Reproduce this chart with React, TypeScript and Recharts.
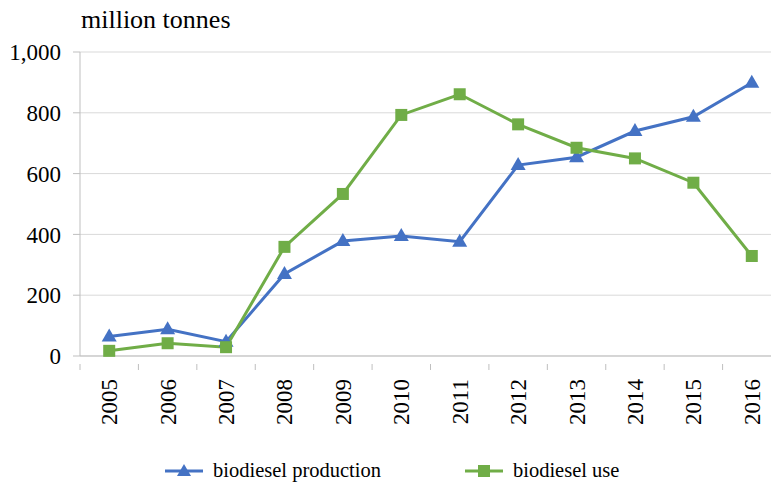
import { LineChart, Line, XAxis, YAxis, CartesianGrid, Legend } from 'recharts'

const YEARS = ['2005', '2006', '2007', '2008', '2009', '2010', '2011', '2012', '2013', '2014', '2015', '2016']
const PRODUCTION = [64, 88, 47, 270, 378, 395, 376, 628, 654, 740, 787, 899]
const USE = [17, 42, 29, 359, 533, 793, 861, 762, 685, 650, 570, 329]
const Y_TICKS = [0, 200, 400, 600, 800, 1000]

const BLUE = '#4472C4'
const GREEN = '#70AD47'
const AXIS = '#bfbfbf'
const FONT = 'Times New Roman, Liberation Serif, DejaVu Serif, serif'

const data = YEARS.map((year, i) => ({ year, production: PRODUCTION[i], use: USE[i] }))

const Triangle = ({ cx, cy }: any) => {
  if (cx == null || cy == null) return null
  return <path d={`M${cx},${cy - 8} L${cx + 7.5},${cy + 5} L${cx - 7.5},${cy + 5} Z`} fill={BLUE} />
}

const Square = ({ cx, cy }: any) => {
  if (cx == null || cy == null) return null
  return <rect x={cx - 6} y={cy - 6} width={12} height={12} fill={GREEN} />
}

const YearTick = (props: any) => {
  const { x, y, payload, width, visibleTicksCount } = props
  const band = width && visibleTicksCount ? width / visibleTicksCount : 58.4
  const left = x - band / 2
  return (
    <g>
      <line x1={left} y1={y} x2={left} y2={y + 6} stroke={AXIS} />
      <text
        x={0}
        y={0}
        transform={`translate(${x + 8},${y + 15}) rotate(-90)`}
        textAnchor="end"
        fontSize={23}
        style={{ fontFamily: FONT }}
        fill="#000"
      >
        {payload.value}
      </text>
    </g>
  )
}

const LegendContent = () => {
  const items = [
    { label: 'biodiesel production', color: BLUE, marker: 'tri' },
    { label: 'biodiesel use', color: GREEN, marker: 'sq' },
  ]
  return (
    <div style={{ display: 'flex', fontFamily: FONT, fontSize: 20.5, color: '#000', paddingLeft: 165 }}>
      {items.map((it, i) => (
        <div key={it.label} style={{ display: 'flex', alignItems: 'center', marginRight: i === 0 ? 84 : 0 }}>
          <svg width={40} height={20} style={{ marginRight: 8 }}>
            <line x1={0} y1={10} x2={38} y2={10} stroke={it.color} strokeWidth={3} />
            {it.marker === 'tri' ? (
              <path d="M19,3 L26,15 L12,15 Z" fill={it.color} />
            ) : (
              <rect x={13} y={4} width={12} height={12} fill={it.color} />
            )}
          </svg>
          <span>{it.label}</span>
        </div>
      ))}
    </div>
  )
}

export default function App() {
  return (
    <div style={{ position: 'absolute', left: 0, top: 0, width: 771, height: 484, overflow: 'hidden', background: '#fff' }}>
      <div style={{ position: 'absolute', left: 81, top: 5, fontFamily: FONT, fontSize: 26, color: '#000' }}>
        million tonnes
      </div>
      <LineChart width={800} height={484} data={data} margin={{ top: 52, right: 19, bottom: 2, left: 0 }}>
        <CartesianGrid vertical={false} stroke="#d9d9d9" />
        <XAxis
          dataKey="year"
          scale="band"
          height={103}
          axisLine={{ stroke: AXIS }}
          tickLine={false}
          interval={0}
          tick={<YearTick />}
        />
        <YAxis
          width={80}
          domain={[0, 1000]}
          ticks={Y_TICKS}
          tickFormatter={(v: number) => v.toLocaleString('en-US')}
          axisLine={{ stroke: AXIS }}
          tickLine={{ stroke: AXIS }}
          tickSize={7}
          tickMargin={12}
          tick={{ fontSize: 23, style: { fontFamily: FONT }, fill: '#000' }}
        />
        <Line
          dataKey="production"
          stroke={BLUE}
          strokeWidth={3}
          dot={<Triangle />}
          activeDot={false}
          isAnimationActive={false}
        />
        <Line
          dataKey="use"
          stroke={GREEN}
          strokeWidth={3}
          dot={<Square />}
          activeDot={false}
          isAnimationActive={false}
        />
        <Legend verticalAlign="bottom" content={<LegendContent />} />
      </LineChart>
    </div>
  )
}
